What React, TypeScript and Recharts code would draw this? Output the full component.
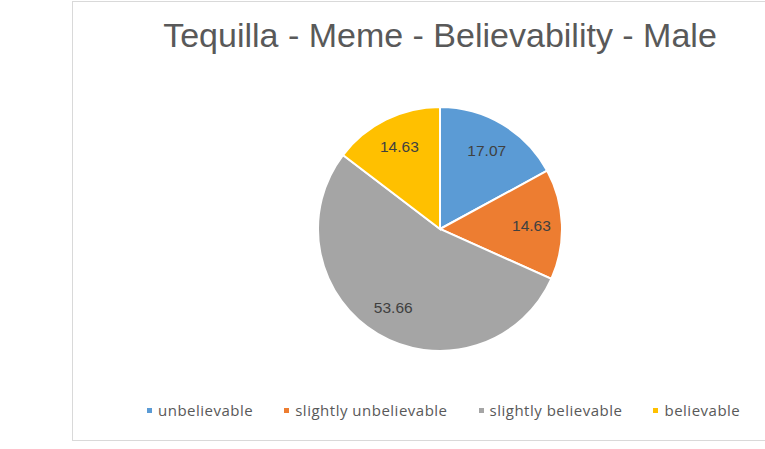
import { PieChart, Pie, Cell, Legend } from 'recharts';

const categories = ['unbelievable', 'slightly unbelievable', 'slightly believable', 'believable'];
const values = [17.07, 14.63, 53.66, 14.63];
const colors = ['#5B9BD5', '#ED7D31', '#A5A5A5', '#FFC000'];

const data = categories.map((name, i) => ({ name, value: values[i] }));

const RADIAN = Math.PI / 180;

function renderLabel(props: any) {
  const { cx, cy, midAngle, outerRadius, value } = props;
  const r = outerRadius * 0.75;
  const x = cx + r * Math.cos(-midAngle * RADIAN);
  const y = cy + r * Math.sin(-midAngle * RADIAN);
  return (
    <text
      x={x}
      y={y}
      fill="#404040"
      fontSize={15.5}
      fontFamily="Liberation Sans, Arial, sans-serif"
      textAnchor="middle"
      dominantBaseline="central"
    >
      {value.toFixed(2)}
    </text>
  );
}

function renderLegend() {
  return (
    <div style={{ display: 'flex', alignItems: 'center', fontFamily: 'Open Sans, sans-serif', fontSize: 15, letterSpacing: 0.5, color: '#595959', whiteSpace: 'nowrap' }}>
      {categories.map((c, i) => (
        <div key={c} style={{ display: 'flex', alignItems: 'center', marginRight: 31 }}>
          <span style={{ display: 'inline-block', width: 5, height: 5, background: colors[i], marginRight: 6 }} />
          <span>{c}</span>
        </div>
      ))}
    </div>
  );
}

export default function App() {
  return (
    <div style={{ position: 'absolute', left: 0, top: 0, width: 765, height: 449, background: '#fff', overflow: 'hidden' }}>
      <div style={{ position: 'absolute', left: 72, top: 1, width: 720, height: 438, border: '1px solid #d9d9d9' }} />
      <PieChart
        width={765}
        height={449}
        margin={{ top: 0, right: 0, bottom: 0, left: 0 }}
        style={{ position: 'absolute', left: 0, top: 0 }}
      >
        <text
          x={440}
          y={47}
          textAnchor="middle"
          fill="#595959"
          fontSize={34}
          fontFamily="Liberation Sans, Arial, sans-serif"
        >
          Tequilla - Meme - Believability - Male
        </text>
        <Pie
          data={data}
          dataKey="value"
          nameKey="name"
          cx={440}
          cy={229}
          outerRadius={122}
          startAngle={90}
          endAngle={-270}
          stroke="#fff"
          strokeWidth={2}
          label={renderLabel}
          labelLine={false}
          isAnimationActive={false}
        >
          {data.map((d, i) => (
            <Cell key={d.name} fill={colors[i]} />
          ))}
        </Pie>
        <Legend
          content={renderLegend}
          wrapperStyle={{ position: 'absolute', left: 147, top: 400, width: 640, height: 22 }}
        />
      </PieChart>
    </div>
  );
}
